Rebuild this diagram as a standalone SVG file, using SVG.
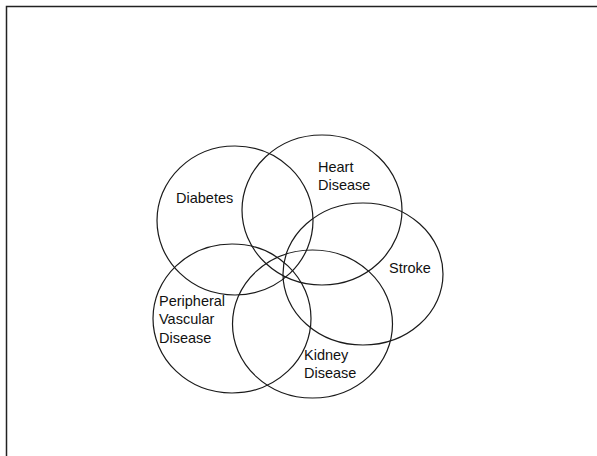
<svg xmlns="http://www.w3.org/2000/svg" width="597" height="456" viewBox="0 0 597 456">
<style>
.c{fill:none;stroke:#1a1a1a;stroke-width:1.2}
.t{font-family:"Liberation Sans",Arial,sans-serif;font-size:14.5px;fill:#111}
.b{fill:none;stroke:#222;stroke-width:1.5}
</style>
<rect width="597" height="456" fill="#fff"/>
<path class="b" d="M6.5,456 V6.5 H597"/>
<g id="diabetes">
<ellipse class="c" cx="235" cy="220.5" rx="78" ry="74.5"/>
<text class="t" x="176" y="203">Diabetes</text>
</g>
<g id="heart-disease">
<ellipse class="c" cx="322" cy="210" rx="80" ry="75"/>
<text class="t" x="318" y="171.5">Heart</text>
<text class="t" x="318" y="189.5">Disease</text>
</g>
<g id="stroke">
<ellipse class="c" cx="363" cy="274" rx="80" ry="71"/>
<text class="t" x="389" y="272.5">Stroke</text>
</g>
<g id="peripheral-vascular-disease">
<ellipse class="c" cx="232" cy="318.5" rx="79" ry="74.5"/>
<text class="t" x="159" y="306">Peripheral</text>
<text class="t" x="159" y="324">Vascular</text>
<text class="t" x="159" y="342.5">Disease</text>
</g>
<g id="kidney-disease">
<ellipse class="c" cx="312.5" cy="324" rx="80" ry="74"/>
<text class="t" x="304" y="360">Kidney</text>
<text class="t" x="304" y="378">Disease</text>
</g>
<g id="connectors"></g>
</svg>
